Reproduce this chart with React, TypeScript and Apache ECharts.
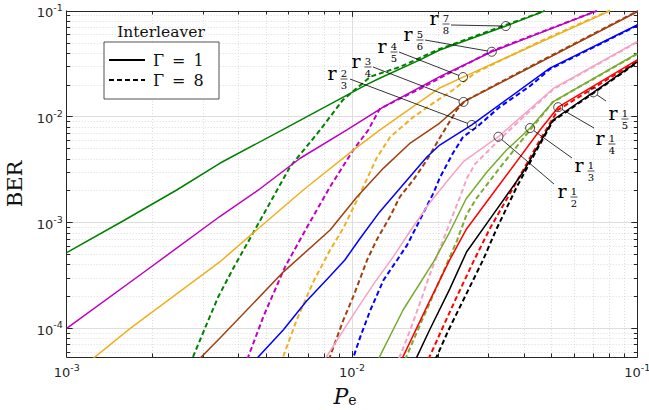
import React, { useEffect, useRef } from 'react';
import * as echarts from 'echarts';

// ---- axis ranges and tick labels ----
const peRange = [1e-3, 1e-1];
const berRange = [5.36e-5, 1e-1];
const xTickExponents = [-3, -2, -1];
const yTickExponents = [-4, -3, -2, -1];

// ---- code rates ----
const codeRates = ['7/8', '5/6', '4/5', '3/4', '2/3', '1/2', '1/3', '1/4', '1/5'];

// ---- [Pe, BER] pairs, interleaver Γ = 1 (solid) and Γ = 8 (dashed) ----
const r78_g1 = [[1e-3, 5.19e-4], [1.58e-3, 1.04e-3], [2.43e-3, 2.03e-3], [3.44e-3, 3.63e-3], [5.68e-3, 7.48e-3], [1.12e-2, 2.0e-2], [1.25e-2, 2.31e-2], [1.73e-2, 3.44e-2], [2.03e-2, 4.27e-2], [3.46e-2, 7.19e-2], [4.74e-2, 0.1]];
const r78_g8 = [[2.51e-3, 2.82e-5], [3.10e-3, 1.11e-4], [3.40e-3, 1.99e-4], [3.84e-3, 3.72e-4], [4.63e-3, 9.12e-4], [6.07e-3, 3.37e-3], [7.73e-3, 7.48e-3], [9.29e-3, 1.44e-2], [1.16e-2, 2.39e-2], [1.47e-2, 2.95e-2], [2.03e-2, 4.37e-2], [3.46e-2, 7.36e-2], [4.74e-2, 0.1]];
const r56_g1 = [[1e-3, 1e-4], [1.91e-3, 3.56e-4], [3.44e-3, 1.14e-3], [4.70e-3, 2.03e-3], [6.58e-3, 4.05e-3], [9.57e-3, 7.48e-3], [1.29e-2, 1.24e-2], [2.03e-2, 2.39e-2], [3.09e-2, 4.11e-2], [7.21e-2, 0.1]];
const r56_g8 = [[3.98e-3, 3.16e-5], [4.33e-3, 5.40e-5], [4.89e-3, 1.29e-4], [5.82e-3, 3.79e-4], [6.93e-3, 8.87e-4], [8.38e-3, 2.18e-3], [1.01e-2, 4.84e-3], [1.14e-2, 7.48e-3], [1.25e-2, 1.18e-2], [1.44e-2, 1.44e-2], [1.73e-2, 1.83e-2], [2.03e-2, 2.32e-2], [3.09e-2, 4.18e-2], [7.21e-2, 0.1]];
const r45_g1 = [[1.12e-3, 4.17e-5], [1.67e-3, 1e-4], [3.44e-3, 4.24e-4], [4.63e-3, 8.49e-4], [6.75e-3, 2.03e-3], [1.01e-2, 4.84e-3], [1.25e-2, 7.48e-3], [2.03e-2, 1.87e-2], [2.45e-2, 2.37e-2], [8.02e-2, 0.1]];
const r45_g8 = [[5.25e-3, 2.82e-5], [6.40e-3, 1.20e-4], [7.31e-3, 2.74e-4], [8.38e-3, 5.50e-4], [9.33e-3, 8.87e-4], [1.07e-2, 1.90e-3], [1.22e-2, 4.07e-3], [1.36e-2, 6.43e-3], [1.64e-2, 9.93e-3], [1.93e-2, 1.35e-2], [2.26e-2, 1.79e-2], [2.70e-2, 2.59e-2], [4.56e-2, 5.14e-2], [8.02e-2, 0.101]];
const r34_g1 = [[2.75e-3, 4.37e-5], [3.44e-3, 8.05e-5], [5.74e-3, 3.40e-4], [8.38e-3, 8.49e-4], [1.04e-2, 1.74e-3], [1.29e-2, 3.27e-3], [1.60e-2, 5.64e-3], [2.03e-2, 8.71e-3], [2.46e-2, 1.38e-2], [0.1, 9.82e-2]];
const r34_g8 = [[7.59e-3, 2.63e-5], [9.33e-3, 1.20e-4], [1.01e-2, 1.99e-4], [1.13e-2, 4.43e-4], [1.22e-2, 6.84e-4], [1.36e-2, 1.14e-3], [1.47e-2, 1.74e-3], [1.64e-2, 2.52e-3], [1.83e-2, 3.90e-3], [2.03e-2, 6.30e-3], [2.33e-2, 1.16e-2], [2.49e-2, 1.41e-2], [4.56e-2, 3.33e-2], [0.1, 9.93e-2]];
const r23_g1 = [[4.07e-3, 3.55e-5], [5.74e-3, 9.64e-5], [6.93e-3, 1.81e-4], [8.38e-3, 3.12e-4], [9.44e-3, 4.43e-4], [1.07e-2, 7.14e-4], [1.25e-2, 1.26e-3], [1.56e-2, 2.52e-3], [1.83e-2, 4.16e-3], [2.03e-2, 5.40e-3], [2.63e-2, 8.36e-3], [4.94e-2, 2.88e-2], [0.1, 7.36e-2]];
const r23_g8 = [[9.55e-3, 3.39e-5], [1.07e-2, 8.34e-5], [1.16e-2, 1.49e-4], [1.29e-2, 2.86e-4], [1.44e-2, 4.43e-4], [1.56e-2, 6.12e-4], [1.73e-2, 1.06e-3], [1.93e-2, 1.90e-3], [2.03e-2, 2.64e-3], [2.26e-2, 4.54e-3], [2.45e-2, 6.43e-3], [2.74e-2, 8.00e-3], [3.30e-2, 1.24e-2], [4.21e-2, 1.95e-2], [4.94e-2, 2.82e-2], [0.1, 7.28e-2]];
const r12_g1 = [[7.41e-3, 3.63e-5], [1.01e-2, 1.34e-4], [1.19e-2, 2.62e-4], [1.40e-2, 4.82e-4], [1.60e-2, 8.32e-4], [1.87e-2, 1.53e-3], [2.20e-2, 2.64e-3], [2.47e-2, 3.81e-3], [3.26e-2, 6.47e-3], [5.08e-2, 1.85e-2], [0.1, 5.12e-2]];
const r12_g8 = [[1.38e-2, 3.16e-5], [1.47e-2, 5.40e-5], [1.60e-2, 9.64e-5], [1.73e-2, 1.73e-4], [1.87e-2, 3.19e-4], [2.03e-2, 5.62e-4], [2.20e-2, 9.89e-4], [2.39e-2, 1.74e-3], [2.53e-2, 2.64e-3], [2.70e-2, 3.57e-3], [3.30e-2, 6.15e-3], [5.06e-2, 1.81e-2], [0.1, 5.08e-2]];
const r13_g1 = [[1.15e-2, 3.31e-5], [1.25e-2, 5.40e-5], [1.51e-2, 1.49e-4], [1.93e-2, 4.24e-4], [2.20e-2, 8.13e-4], [2.51e-2, 1.67e-3], [2.97e-2, 3.00e-3], [3.48e-2, 4.84e-3], [4.21e-2, 7.82e-3], [5.06e-2, 1.38e-2], [0.1, 3.97e-2]];
const r13_g8 = [[1.41e-2, 3.16e-5], [1.55e-2, 5.40e-5], [1.73e-2, 1.07e-4], [2.03e-2, 2.86e-4], [2.33e-2, 6.68e-4], [2.52e-2, 1.18e-3], [2.72e-2, 1.67e-3], [3.21e-2, 3.00e-3], [3.67e-2, 4.74e-3], [4.21e-2, 7.48e-3], [5.06e-2, 1.38e-2], [0.1, 3.92e-2]];
const r14_g1 = [[1.38e-2, 3.24e-5], [1.51e-2, 5.40e-5], [1.87e-2, 1.81e-4], [2.20e-2, 4.43e-4], [2.52e-2, 8.69e-4], [3.30e-2, 2.31e-3], [4.56e-2, 7.48e-3], [5.28e-2, 1.23e-2], [0.1, 3.44e-2]];
const r14_g8 = [[1.72e-2, 3.16e-5], [1.87e-2, 5.40e-5], [2.30e-2, 1.85e-4], [2.70e-2, 4.61e-4], [3.05e-2, 8.87e-4], [3.72e-2, 2.26e-3], [4.56e-2, 6.03e-3], [5.27e-2, 1.16e-2], [0.1, 3.36e-2]];
const r15_g1 = [[1.55e-2, 3.31e-5], [1.69e-2, 5.40e-5], [1.87e-2, 9.64e-5], [2.20e-2, 2.35e-4], [2.52e-2, 5.26e-4], [3.13e-2, 1.20e-3], [3.98e-2, 3.00e-3], [5.06e-2, 9.31e-3], [7.01e-2, 1.70e-2], [0.1, 3.29e-2]];
const r15_g8 = [[1.82e-2, 3.16e-5], [1.98e-2, 5.40e-5], [2.18e-2, 9.64e-5], [2.88e-2, 4.43e-4], [3.21e-2, 8.69e-4], [3.78e-2, 2.17e-3], [4.44e-2, 4.84e-3], [5.06e-2, 9.10e-3], [7.01e-2, 1.67e-2], [0.1, 3.25e-2]];

// ---- marked points (circles) for each code rate ----
const markPe = [3.46e-2, 3.09e-2, 2.45e-2, 2.46e-2, 2.63e-2, 3.26e-2, 4.21e-2, 5.28e-2, 7.01e-2];
const markBer = [7.19e-2, 4.11e-2, 2.37e-2, 1.38e-2, 8.36e-3, 6.47e-3, 7.82e-3, 1.23e-2, 1.70e-2];

// ---- legend texts ----
const legendTitle = 'Interleaver';
const legendLabels = ['Γ\u2002=\u20021', 'Γ\u2002=\u20028'];

const gamma1Sets = [r78_g1, r56_g1, r45_g1, r34_g1, r23_g1, r12_g1, r13_g1, r14_g1, r15_g1];
const gamma8Sets = [r78_g8, r56_g8, r45_g8, r34_g8, r23_g8, r12_g8, r13_g8, r14_g8, r15_g8];

// ---- styles / layout (not data) ----
const colors = ['#008000', '#c000c0', '#edb120', '#a0400f', '#0000ff', '#f7a1c4', '#77ac30', '#ff0000', '#000000'];
// r-label centre (rx, ry) and leader start (lx, ly), in pixels
const labelLayout = [
  { rx: 434, ry: 18, lx: 451, ly: 25 },
  { rx: 408, ry: 34, lx: 425, ly: 40 },
  { rx: 382, ry: 46, lx: 399, ly: 52 },
  { rx: 356, ry: 61, lx: 373, ly: 67 },
  { rx: 332, ry: 73, lx: 350, ly: 79 },
  { rx: 562, ry: 191, lx: 554, ly: 184 },
  { rx: 579, ry: 165, lx: 572, ly: 158 },
  { rx: 600, ry: 138, lx: 594, ly: 128 },
  { rx: 613, ry: 113, lx: 606, ly: 101 },
];

const L = Math.log10;
const toLog = (pts: number[][]) => pts.map(([x, y]) => [L(x), L(y)]);

const AX = '#262626';
const SERIF = '"DejaVu Serif", "Liberation Serif", serif';
const SANS = '"DejaVu Sans", "Liberation Sans", sans-serif';

function minorTicks(lo: number, hi: number) {
  const out: number[] = [];
  for (let k = Math.floor(lo) - 1; k <= Math.ceil(hi); k++) {
    for (let m = 2; m <= 9; m++) {
      const v = k + L(m);
      if (v > lo + 1e-9 && v < hi - 1e-9) out.push(v);
    }
  }
  return out;
}

export default function App() {
  const ref = useRef<HTMLDivElement>(null);

  useEffect(() => {
    const el = ref.current!;
    const chart = echarts.init(el, undefined, { renderer: 'svg', width: 649, height: 410 });

    const x0 = L(peRange[0]);
    const x1 = L(peRange[1]);
    const y0 = L(berRange[0]);
    const y1 = L(berRange[1]);
    const minorX = minorTicks(x0, x1);
    const minorY = minorTicks(y0, y1);

    const labelRich = {
      b: { fontFamily: SANS, fontSize: 13, color: AX, verticalAlign: 'bottom', lineHeight: 17 },
      s: { fontFamily: SANS, fontSize: 9.5, color: AX, verticalAlign: 'top', lineHeight: 17 },
    };
    const fmt = (v: number) => `{b|10}{s|${Math.round(v)}}`;

    const majorSplit = { show: true, lineStyle: { color: '#dedede', width: 1, type: 'solid' } };
    const minorSplit = { show: true, lineStyle: { color: '#d2d2d2', width: 0.8, type: [1, 2] } };

    const mkAxes = (kind: 'x' | 'y', lo: number, hi: number, majors: number[], minors: number[]) => {
      const pos = kind === 'x' ? ['bottom', 'top'] : ['left', 'right'];
      const base = { type: 'value', min: lo, max: hi };
      return [
        {
          ...base, position: pos[0],
          axisLine: { show: true, onZero: false, lineStyle: { color: AX, width: 1 } },
          axisTick: { show: true, inside: true, length: 6, customValues: majors, lineStyle: { color: AX, width: 1 } },
          axisLabel: { show: true, customValues: majors, formatter: fmt, rich: labelRich, margin: kind === 'x' ? 5 : 4 },
          splitLine: majorSplit,
        },
        {
          ...base, position: pos[0],
          axisLine: { show: false, onZero: false },
          axisTick: { show: true, inside: true, length: 3.5, customValues: minors, lineStyle: { color: AX, width: 1 } },
          axisLabel: { show: false },
          splitLine: minorSplit,
        },
        {
          ...base, position: pos[1],
          axisLine: { show: true, onZero: false, lineStyle: { color: AX, width: 1 } },
          axisTick: { show: true, inside: true, length: 6, customValues: majors, lineStyle: { color: AX, width: 1 } },
          axisLabel: { show: false },
          splitLine: { show: false },
        },
        {
          ...base, position: pos[1],
          axisLine: { show: false, onZero: false },
          axisTick: { show: true, inside: true, length: 3.5, customValues: minors, lineStyle: { color: AX, width: 1 } },
          axisLabel: { show: false },
          splitLine: { show: false },
        },
      ];
    };

    const xAxes: any[] = mkAxes('x', x0, x1, xTickExponents, minorX);
    const yAxes: any[] = mkAxes('y', y0, y1, yTickExponents, minorY);

    xAxes[0].name = '{p|P}{e|e}';
    xAxes[0].nameLocation = 'middle';
    xAxes[0].nameGap = 24;
    xAxes[0].nameTextStyle = {
      padding: [0, 14, 0, 0],
      rich: {
        p: { fontFamily: SERIF, fontStyle: 'italic', fontSize: 22, color: '#111', verticalAlign: 'bottom', lineHeight: 26 },
        e: { fontFamily: SERIF, fontSize: 14, color: '#111', verticalAlign: 'bottom', lineHeight: 26 },
      },
    };
    yAxes[0].name = 'BER';
    yAxes[0].nameLocation = 'middle';
    yAxes[0].nameRotate = 90;
    yAxes[0].nameGap = 38;
    yAxes[0].nameTextStyle = { fontFamily: SERIF, fontSize: 21, color: '#111' };

    const series: any[] = [];
    codeRates.forEach((rate, i) => {
      series.push({
        type: 'line', name: `r${rate} Γ=1`, data: toLog(gamma1Sets[i]),
        showSymbol: false, symbol: 'none', clip: true, silent: true,
        lineStyle: { color: colors[i], width: 1.5, type: 'solid' },
        itemStyle: { color: colors[i] }, z: 3,
      });
      series.push({
        type: 'line', name: `r${rate} Γ=8`, data: toLog(gamma8Sets[i]),
        showSymbol: false, symbol: 'none', clip: true, silent: true,
        lineStyle: { color: colors[i], width: 2, type: [5, 3] },
        itemStyle: { color: colors[i] }, z: 3,
      });
    });
    series.push({
      type: 'scatter', name: 'marks',
      data: markPe.map((p, i) => [L(p), L(markBer[i])]),
      symbol: 'circle', symbolSize: 9, silent: true, z: 5,
      itemStyle: { color: 'rgba(0,0,0,0)', borderColor: '#000', borderWidth: 0.9 },
    });

    chart.setOption({
      animation: false,
      backgroundColor: '#ffffff',
      grid: { left: 66.7, top: 10.9, right: 11.7, bottom: 53, containLabel: false, outerBoundsMode: 'none' },
      xAxis: xAxes,
      yAxis: yAxes,
      series,
    });

    // annotations and legend
    const g: any[] = [];
    const R = 4.5;
    codeRates.forEach((rate, i) => {
      const [num, den] = rate.split('/');
      const lay = labelLayout[i];
      const c = chart.convertToPixel({ gridIndex: 0 }, [L(markPe[i]), L(markBer[i])]) as number[];
      const dx = lay.lx - c[0];
      const dy = lay.ly - c[1];
      const d = Math.hypot(dx, dy) || 1;
      g.push({ type: 'line', z: 50, silent: true, shape: { x1: lay.lx, y1: lay.ly, x2: c[0] + (dx / d) * R, y2: c[1] + (dy / d) * R }, style: { stroke: '#000', lineWidth: 0.8 } });
      g.push({ type: 'text', z: 50, silent: true, x: lay.rx, y: lay.ry, style: { text: 'r', font: `19px ${SERIF}`, fill: '#000', align: 'center', verticalAlign: 'middle', textAlign: 'center', textVerticalAlign: 'middle' } });
      g.push({ type: 'text', z: 50, silent: true, x: lay.rx + 12, y: lay.ry, style: { text: num, font: `10px ${SERIF}`, fill: '#000', align: 'center', verticalAlign: 'middle', textAlign: 'center', textVerticalAlign: 'middle' } });
      g.push({ type: 'line', z: 50, silent: true, shape: { x1: lay.rx + 8.5, y1: lay.ry + 6, x2: lay.rx + 15.5, y2: lay.ry + 6 }, style: { stroke: '#000', lineWidth: 0.7 } });
      g.push({ type: 'text', z: 50, silent: true, x: lay.rx + 12, y: lay.ry + 12.5, style: { text: den, font: `10px ${SERIF}`, fill: '#000', align: 'center', verticalAlign: 'middle', textAlign: 'center', textVerticalAlign: 'middle' } });
    });

    g.push({ type: 'text', z: 60, silent: true, x: 161, y: 32, style: { text: legendTitle, font: `15.5px ${SERIF}`, fill: '#111', align: 'center', verticalAlign: 'middle', textAlign: 'center', textVerticalAlign: 'middle' } });
    g.push({ type: 'rect', z: 60, silent: true, shape: { x: 104, y: 42, width: 115, height: 57 }, style: { fill: '#fff', stroke: AX, lineWidth: 0.8 } });
    g.push({ type: 'line', z: 61, silent: true, shape: { x1: 109, y1: 60, x2: 145, y2: 60 }, style: { stroke: '#000', lineWidth: 2 } });
    g.push({ type: 'line', z: 61, silent: true, shape: { x1: 109, y1: 80, x2: 145, y2: 80 }, style: { stroke: '#000', lineWidth: 2, lineDash: [5, 3] } });
    legendLabels.forEach((t, i) => {
      g.push({ type: 'text', z: 61, silent: true, x: 153, y: 60 + i * 20, style: { text: t, font: `16px ${SERIF}`, fill: '#111', align: 'left', verticalAlign: 'middle', textAlign: 'left', textVerticalAlign: 'middle' } });
    });

    chart.setOption({ graphic: g });

    return () => chart.dispose();
  }, []);

  return <div ref={ref} style={{ position: 'fixed', left: 0, top: 0, width: 649, height: 410, background: '#fff' }} />;
}
